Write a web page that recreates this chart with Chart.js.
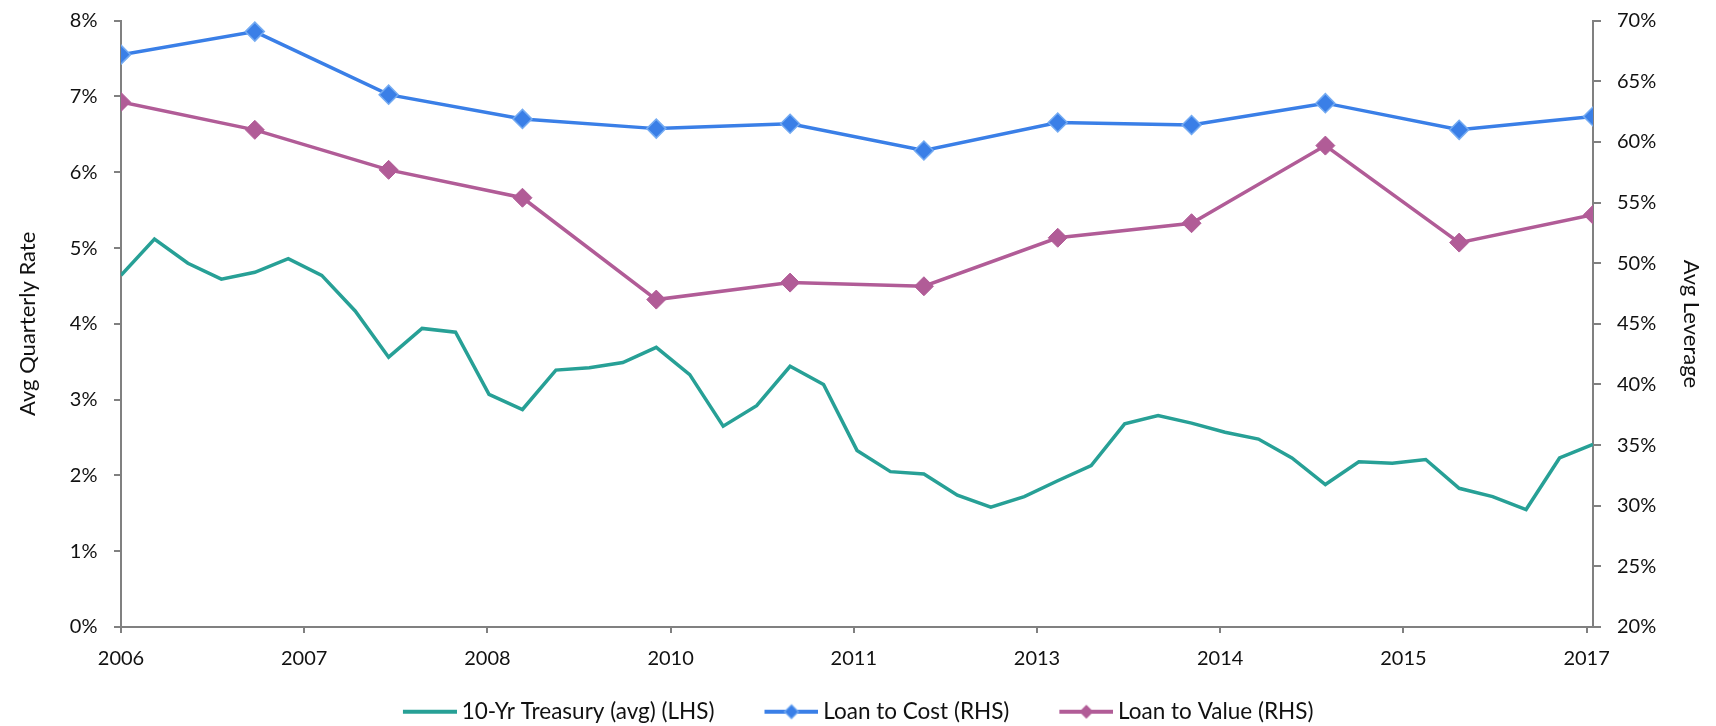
<!DOCTYPE html>
<html>
<head>
<meta charset="utf-8">
<script src="https://cdn.jsdelivr.net/npm/chart.js@4/dist/chart.umd.min.js"></script>
<style>
  html, body { margin: 0; padding: 0; background: #ffffff; }
  #wrap { width: 1716px; height: 726px; position: relative; }
</style>
</head>
<body>
<div id="wrap"><canvas id="c" width="1716" height="726"></canvas></div>
<script>
// ---- data ----
const treasuryQuarterly = [4.64, 5.12, 4.80, 4.59, 4.68, 4.86, 4.64, 4.17, 3.56, 3.94, 3.89, 3.07, 2.87, 3.39, 3.42,
  3.49, 3.69, 3.33, 2.65, 2.92, 3.44, 3.20, 2.33, 2.05, 2.02, 1.74, 1.58, 1.72, 1.93, 2.13,
  2.68, 2.79, 2.69, 2.57, 2.48, 2.23, 1.88, 2.18, 2.16, 2.21, 1.83, 1.72, 1.55, 2.23, 2.41];
const years = [2006, 2007, 2008, 2009, 2010, 2011, 2012, 2013, 2014, 2015, 2016, 2017];
const loanToCost = [67.2, 69.1, 63.9, 61.9, 61.1, 61.5, 59.3, 61.6, 61.4, 63.2, 61.0, 62.1];
const loanToValue = [63.3, 61.0, 57.7, 55.4, 47.0, 48.4, 48.1, 52.1, 53.3, 59.7, 51.7, 54.0];
const xTickLabels = ['2006', '2007', '2008', '2010', '2011', '2013', '2014', '2015', '2017'];
const leftTicks = [0, 1, 2, 3, 4, 5, 6, 7, 8];
const rightTicks = [20, 25, 30, 35, 40, 45, 50, 55, 60, 65, 70];
const seriesNames = ['10-Yr Treasury (avg) (LHS)', 'Loan to Cost (RHS)', 'Loan to Value (RHS)'];

// ---- styles ----
const TEAL = '#27A096', BLUE = '#3A7FE7', BLUE_EDGE = '#74ABF2', MAG = '#B15C97';
const AXIS = '#808080', TXT = '#111111';
const FONT = 'Lato';
const QUARTERS_PER_YEAR = 4;
const TICK_STEP = 5.476; // tick spacing in quarters, as in the reference axis

// legend icon: transparent lead-in on the left, then a 54px line (with optional diamond)
function legendIcon(color, marker, edge) {
  const c = document.createElement('canvas');
  c.width = 82; c.height = 22;
  const g = c.getContext('2d');
  const x0 = 28, x1 = 82, cx = (x0 + x1) / 2, cy = 11;
  g.strokeStyle = color; g.lineWidth = 4;
  g.beginPath(); g.moveTo(x0, cy); g.lineTo(x1, cy); g.stroke();
  if (marker) {
    g.beginPath();
    g.moveTo(cx, cy - 7); g.lineTo(cx + 7, cy); g.lineTo(cx, cy + 7); g.lineTo(cx - 7, cy); g.closePath();
    g.fillStyle = color; g.fill();
    if (edge) { g.strokeStyle = edge; g.lineWidth = 1.2; g.stroke(); }
  }
  return c;
}
const icons = [legendIcon(TEAL, false), legendIcon(BLUE, true, BLUE_EDGE), legendIcon(MAG, true)];

const treasuryPts = treasuryQuarterly.map((v, i) => ({ x: i, y: v }));
const ltcPts = loanToCost.map((v, i) => ({ x: i * QUARTERS_PER_YEAR, y: v }));
const ltvPts = loanToValue.map((v, i) => ({ x: i * QUARTERS_PER_YEAR, y: v }));

const xTickFont = { family: FONT, size: 20 };
const yTickFont = { family: FONT, size: 20, lineHeight: 0.2 };
const titleFont = { family: FONT, size: 22 };

new Chart(document.getElementById('c'), {
  type: 'line',
  data: {
    datasets: [
      { label: seriesNames[0], data: treasuryPts, yAxisID: 'y', borderColor: TEAL, backgroundColor: TEAL,
        borderWidth: 3.5, pointRadius: 0, tension: 0, order: 3 },
      { label: seriesNames[1], data: ltcPts, yAxisID: 'y2', borderColor: BLUE, backgroundColor: BLUE,
        borderWidth: 3.5, pointStyle: 'rectRot', pointRadius: 9.5, pointBorderColor: BLUE_EDGE,
        pointBackgroundColor: BLUE, pointBorderWidth: 1.5, tension: 0, order: 2 },
      { label: seriesNames[2], data: ltvPts, yAxisID: 'y2', borderColor: MAG, backgroundColor: MAG,
        borderWidth: 3.5, pointStyle: 'rectRot', pointRadius: 9.5, pointBorderColor: MAG,
        pointBackgroundColor: MAG, pointBorderWidth: 1, tension: 0, order: 1 }
    ]
  },
  options: {
    responsive: false,
    animation: false,
    devicePixelRatio: 1,
    layout: { padding: { top: 20.7, bottom: -7, left: -10.6, right: 10.6 } },
    plugins: {
      tooltip: { enabled: false },
      legend: {
        position: 'bottom',
        align: 'center',
        labels: {
          usePointStyle: true,
          pointStyleWidth: 69,
          padding: 28.5,
          color: TXT,
          font: { family: FONT, size: 22.5 },
          generateLabels: (chart) => chart.data.datasets.map((ds, i) => ({
            text: ds.label, pointStyle: icons[i], datasetIndex: i, hidden: false,
            fillStyle: 'transparent', strokeStyle: 'transparent', lineWidth: 0, fontColor: TXT
          }))
        }
      }
    },
    scales: {
      x: {
        type: 'linear',
        min: 0,
        max: treasuryQuarterly.length - 1,
        grid: { drawOnChartArea: false, drawTicks: true, tickLength: 6, color: AXIS, lineWidth: 2 },
        border: { display: true, color: AXIS, width: 2 },
        afterBuildTicks: (s) => { s.ticks = xTickLabels.map((_, i) => ({ value: i * TICK_STEP })); },
        afterFit: (s) => { s.height = 45; },
        ticks: {
          autoSkip: false, maxRotation: 0, minRotation: 0, padding: 14, color: TXT, font: xTickFont,
          callback: (v, i) => xTickLabels[i]
        }
      },
      y: {
        position: 'left',
        min: 0, max: 8,
        afterBuildTicks: (s) => { s.ticks = leftTicks.map(v => ({ value: v })); },
        afterFit: (s) => { s.width = 131.6; },
        grid: { drawOnChartArea: false, drawTicks: true, tickLength: 7, color: AXIS, lineWidth: 2 },
        border: { display: true, color: AXIS, width: 2 },
        ticks: { padding: 16.5, color: TXT, font: yTickFont, callback: (v) => v + '%' },
        title: { display: true, text: 'Avg Quarterly Rate', color: TXT, font: titleFont,
          padding: { top: 25, bottom: 0 } }
      },
      y2: {
        position: 'right',
        min: 20, max: 70,
        afterBuildTicks: (s) => { s.ticks = rightTicks.map(v => ({ value: v })); },
        afterFit: (s) => { s.width = 112.4; },
        grid: { drawOnChartArea: false, drawTicks: true, tickLength: 8, color: AXIS, lineWidth: 2 },
        border: { display: true, color: AXIS, width: 2 },
        ticks: { padding: 16, color: TXT, font: yTickFont, callback: (v) => v + '%' },
        title: { display: true, text: 'Avg Leverage', color: TXT, font: titleFont,
          padding: { top: 1.5, bottom: 0 } }
      }
    }
  }
});
</script>
</body>
</html>
